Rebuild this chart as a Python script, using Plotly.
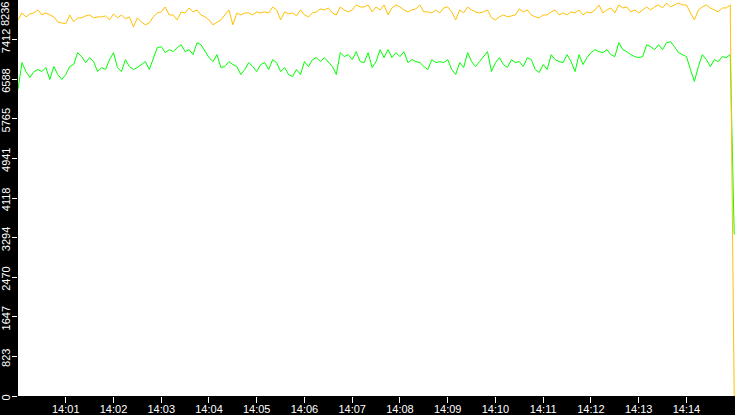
import pandas as pd
import plotly.graph_objects as go

# hodnoty odčítané z grafu, vzorka každých 5 s od 14:00:00
orange_vals = [
    7823, 7967, 7885, 7947, 7967, 8029, 7926, 7967, 7926, 7885,
    7781, 7761, 7740, 7926, 7781, 7864, 7864, 7905, 7926, 7864,
    7885, 7885, 7905, 7823, 7947, 7864, 7926, 7843, 7885, 7678,
    7864, 7781, 7720, 7761, 7885, 7967, 7988, 8091, 7926, 7926,
    7823, 7988, 7967, 8071, 7988, 8029, 7926,
    7885, 7823, 7720, 7781, 7823, 7926, 8029, 7720, 7967, 7926,
    7967, 7967, 7926, 7988, 7967, 7988, 7967, 8091, 8029, 7823,
    7988, 7947, 7967, 7905, 8029, 7926, 7885, 7967, 7988, 8050,
    8029, 8071, 7967, 7926, 8091, 8029, 7988, 8029, 8133, 8091,
    8091, 8133, 7988, 8091, 8029,
    8133, 7926, 8071, 8133, 8091, 8029, 7988, 8029, 8050, 8133,
    7988, 7988, 7967, 8029, 7967, 8071, 8091, 7988, 7823, 8029,
    7967, 8091, 8029, 7988, 7967, 7988, 8029, 7864, 7823, 7885,
    7926, 7885, 7905, 7926, 8050, 7988, 8029, 7926, 7885, 7864,
    7926, 7926, 7988, 8029, 7926,
    7967, 7926, 7988, 7967, 8029, 7926, 7988, 7967, 8029, 8133,
    7967, 8029, 8071, 7967, 8133, 8071, 8091, 7988, 8029, 7967,
    8029, 8091, 8029, 8091, 8133, 8071, 8174, 8091, 8133, 8174,
    8133, 8133, 7967, 7823, 8029, 8091, 8133, 8071, 8029, 7988,
    8071, 8071, 8133,
    0,
]

green_vals = [
    6377, 6934, 6748, 6625, 6748, 6790, 6748, 6831, 6583, 6852,
    6687, 6583, 6687, 6852, 6893, 7141, 7058, 6934, 7038, 6955,
    6748, 6831, 6790, 6996, 7141, 6831, 6748, 6996, 6852, 6790,
    6831, 6893, 6955, 6790, 6996, 7244, 7265, 7141, 7203, 7162,
    7244, 7306, 7162, 7203, 7100, 7348, 7306,
    7162, 7038, 6955, 7100, 6831, 6852, 6955, 6893, 6852, 6687,
    6790, 6934, 6852, 6748, 6893, 6934, 6790, 6996, 6934, 6748,
    6831, 6687, 6645, 6790, 6687, 6955, 6852, 6996, 7038, 6955,
    7038, 6934, 6852, 6687, 7141, 7058, 7100, 6996, 7162, 6955,
    6934, 7141, 6831, 6955, 7203,
    7038, 7203, 7038, 7141, 7058, 7162, 6934, 6996, 6955, 6934,
    6852, 6790, 6996, 6934, 6955, 6934, 6996, 6790, 6687, 6934,
    6831, 7141, 6955, 6852, 6955, 7058, 7162, 6748, 6934, 7038,
    6893, 6831, 6996, 6934, 6955, 6852, 7038, 6996, 6790, 6728,
    6893, 6790, 7100, 6996, 6955,
    6934, 7100, 6955, 6748, 7100, 6893, 7038, 7141, 7203, 7162,
    7141, 7203, 7100, 7058, 7348, 7203, 7162, 7100, 7058, 7038,
    7058, 7306, 7265, 7203, 7306, 7203, 7348, 7368, 7265, 7141,
    7100, 7058, 6790, 6542, 6852, 7100, 6996, 6852, 6996, 6955,
    7058, 7038, 7100,
    3360,
]

times = pd.date_range("2024-01-01 14:00:00", periods=len(orange_vals), freq="5s")

y_tick_vals = [0, 823.6, 1647.2, 2470.8, 3294.4, 4118, 4941.6, 5765.2, 6588.8, 7412.4, 8236]
y_tick_text = ["0", "823", "1647", "2470", "3294", "4118", "4941", "5765", "6588", "7412", "8236"]
x_tick_text = ["14:%02d" % m for m in range(1, 15)]
x_tick_vals = [pd.Timestamp("2024-01-01 " + t) for t in x_tick_text]

fig = go.Figure()

fig.add_trace(go.Scatter(
    x=times, y=green_vals, mode="lines",
    line=dict(color="#00ff00", width=1),
))
fig.add_trace(go.Scatter(
    x=times, y=orange_vals, mode="lines",
    line=dict(color="#ffc000", width=1),
))

font = dict(family="Liberation Sans", size=11, color="white")

# horný popisok by bol orezaný, preto ako anotácia
fig.add_annotation(
    text=y_tick_text[-1], textangle=-90,
    xref="paper", x=0, xanchor="right", xshift=-5,
    yref="y", y=y_tick_vals[-1], yanchor="top",
    showarrow=False, font=font,
)

fig.update_layout(
    width=735, height=415,
    margin=dict(l=16, r=0, t=0, b=16),
    paper_bgcolor="black",
    plot_bgcolor="white",
    showlegend=False,
    xaxis=dict(
        range=[pd.Timestamp("2024-01-01 14:00:00"), pd.Timestamp("2024-01-01 14:15:01")],
        tickvals=x_tick_vals, ticktext=x_tick_text,
        ticks="outside", ticklen=6, tickcolor="white", tickwidth=1,
        tickfont=font, showgrid=False, zeroline=False, showline=False,
        ticklabelstandoff=-3,
    ),
    yaxis=dict(
        range=[0, 8236],
        tickvals=y_tick_vals[:-1], ticktext=y_tick_text[:-1],
        ticks="outside", ticklen=5, tickcolor="white", tickwidth=1,
        tickangle=-90, tickfont=font,
        showgrid=False, zeroline=False, showline=False,
        ticklabelstandoff=-2, ticklabelshift=3,
    ),
)

fig.write_html("out.html", config={"displayModeBar": False},
               post_script="document.body.style.margin='0';")
